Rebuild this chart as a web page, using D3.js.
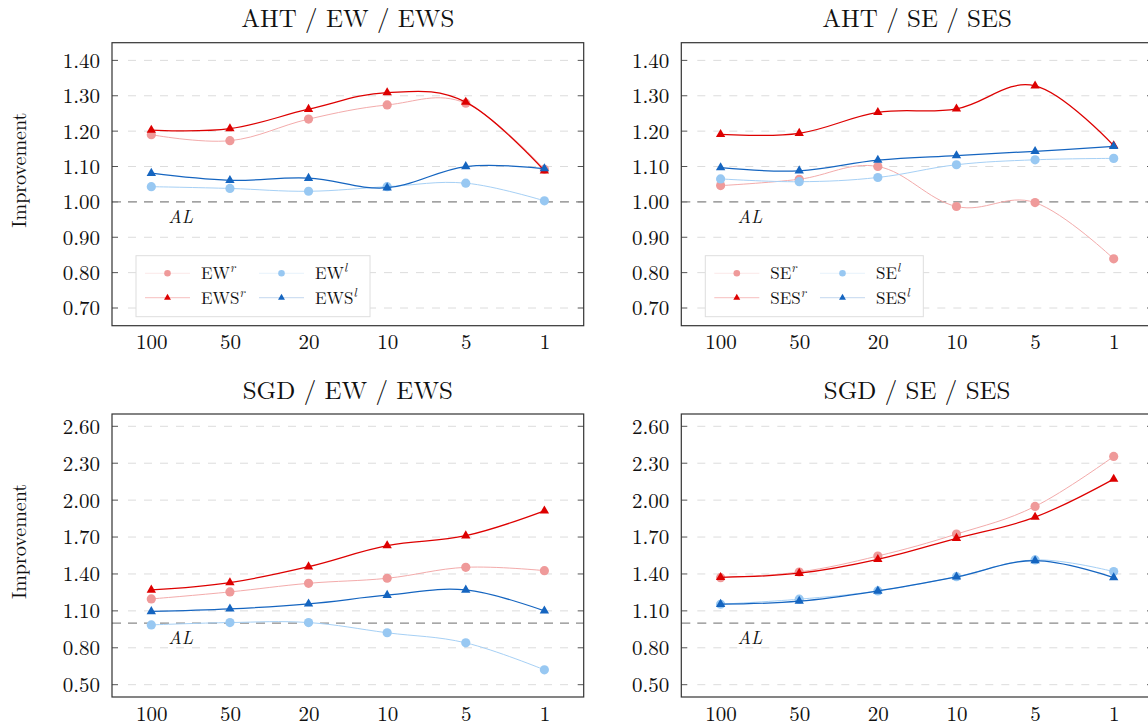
<!DOCTYPE html>
<html><head><meta charset="utf-8">
<script src="https://cdn.jsdelivr.net/npm/d3@7"></script>
<style>
body{margin:0;background:#fff}
svg{display:block}
text{font-family:'Latin Modern Roman','Liberation Serif',serif;fill:#111}
</style>
</head><body><svg id="c" width="1148" height="725"></svg>
<script>
// ---- data ----
const xLabels = ["100","50","20","10","5","1"];
const yTicksAHT = [0.70,0.80,0.90,1.00,1.10,1.20,1.30,1.40];
const yTicksSGD = [0.50,0.80,1.10,1.40,1.70,2.00,2.30,2.60];
const baseline = 1.00;

// AHT / EW / EWS
const ahtEWr  = [1.190,1.173,1.234,1.274,1.279,1.092];
const ahtEWSr = [1.203,1.207,1.262,1.309,1.282,1.088];
const ahtEWl  = [1.043,1.038,1.030,1.043,1.053,1.003];
const ahtEWSl = [1.081,1.061,1.067,1.040,1.100,1.094];
// AHT / SE / SES
const ahtSEr  = [1.046,1.064,1.100,0.987,0.998,0.839];
const ahtSESr = [1.191,1.194,1.253,1.263,1.328,1.159];
const ahtSEl  = [1.065,1.057,1.069,1.105,1.119,1.123];
const ahtSESl = [1.097,1.088,1.118,1.131,1.143,1.157];
// SGD / EW / EWS
const sgdEWr  = [1.197,1.254,1.324,1.365,1.454,1.427];
const sgdEWSr = [1.270,1.330,1.459,1.630,1.711,1.913];
const sgdEWl  = [0.986,1.005,1.005,0.922,0.840,0.621];
const sgdEWSl = [1.095,1.116,1.157,1.227,1.270,1.100];
// SGD / SE / SES
const sgdSEr  = [1.370,1.416,1.546,1.724,1.949,2.355];
const sgdSESr = [1.373,1.406,1.519,1.690,1.862,2.171];
const sgdSEl  = [1.154,1.195,1.262,1.378,1.514,1.419];
const sgdSESl = [1.154,1.179,1.262,1.376,1.508,1.370];

// ---- styles ----
const FONT = "'Latin Modern Roman','Liberation Serif',serif";
const styles = {
  lr: {fill:"#ef9a9a", line:"#f3abab", lw:1.0, marker:"circle"},
  dr: {fill:"#dd0000", line:"#dd0000", lw:1.25, marker:"triangle"},
  lb: {fill:"#98c8f2", line:"#a6d0f5", lw:1.0, marker:"circle"},
  db: {fill:"#1565c0", line:"#1565c0", lw:1.25, marker:"triangle"}
};

const W = 471.7, H = 283;
const panels = [
  {title:"AHT / EW / EWS", x0:112, y0:42.7, domain:[0.65,1.45], ticks:yTicksAHT, ylabel:true,
   series:[["EW","r",ahtEWr,"lr"],["EWS","r",ahtEWSr,"dr"],["EW","l",ahtEWl,"lb"],["EWS","l",ahtEWSl,"db"]],
   legend:{w:234, c2:145}},
  {title:"AHT / SE / SES", x0:681.3, y0:42.7, domain:[0.65,1.45], ticks:yTicksAHT, ylabel:false,
   series:[["SE","r",ahtSEr,"lr"],["SES","r",ahtSESr,"dr"],["SE","l",ahtSEl,"lb"],["SES","l",ahtSESl,"db"]],
   legend:{w:218, c2:136.7}},
  {title:"SGD / EW / EWS", x0:112, y0:414, domain:[0.40,2.70], ticks:yTicksSGD, ylabel:true,
   series:[["EW","r",sgdEWr,"lr"],["EWS","r",sgdEWSr,"dr"],["EW","l",sgdEWl,"lb"],["EWS","l",sgdEWSl,"db"]],
   legend:null},
  {title:"SGD / SE / SES", x0:681.3, y0:414, domain:[0.40,2.70], ticks:yTicksSGD, ylabel:false,
   series:[["SE","r",sgdSEr,"lr"],["SES","r",sgdSESr,"dr"],["SE","l",sgdSEl,"lb"],["SES","l",sgdSESl,"db"]],
   legend:null}
];

const svg = d3.select("#c");
const fmt = d3.format(".2f");

function tri(r){ return `M0,${-r}L${0.866*r},${0.5*r}L${-0.866*r},${0.5*r}Z`; }
function drawMarker(g, type, x, y, color, small){
  if(type==="circle"){
    g.append("circle").attr("cx",x).attr("cy",y).attr("r", small?3.3:4.6).attr("fill",color);
  } else {
    g.append("path").attr("d", tri(small?4:5.4)).attr("transform",`translate(${x},${y})`).attr("fill",color);
  }
}

panels.forEach(p => {
  const g = svg.append("g").attr("transform",`translate(${p.x0},${p.y0})`);
  const x = d3.scalePoint().domain(xLabels).range([0,W]).padding(0.5);
  const y = d3.scaleLinear().domain(p.domain).range([H,0]);

  // grid
  g.append("g").selectAll("line").data(p.ticks).join("line")
    .attr("x1",16).attr("x2",W-8).attr("y1",d=>y(d)).attr("y2",d=>y(d))
    .attr("stroke","#dcdcdc").attr("stroke-width",1).attr("stroke-dasharray","8,8");

  // y axis
  const ya = d3.axisLeft(y).tickValues(p.ticks).tickFormat(fmt).tickSize(0).tickPadding(12);
  const yg = g.append("g").call(ya).attr("font-family",FONT);
  yg.select(".domain").remove();
  yg.selectAll("text").attr("font-size",21).attr("font-family",FONT).attr("fill","#111").attr("dy","0.33em");
  g.append("g").selectAll("line").data(p.ticks).join("line")
    .attr("x1",0).attr("x2",6).attr("y1",d=>y(d)).attr("y2",d=>y(d)).attr("stroke","#555").attr("stroke-width",1);
  g.append("g").selectAll("line").data(p.ticks).join("line")
    .attr("x1",W-6).attr("x2",W).attr("y1",d=>y(d)).attr("y2",d=>y(d)).attr("stroke","#555").attr("stroke-width",1);

  // x axis
  const xa = d3.axisBottom(x).tickSize(0).tickPadding(0);
  const xg = g.append("g").attr("transform",`translate(0,${H})`).call(xa).attr("font-family",FONT);
  xg.select(".domain").remove();
  xg.selectAll("text").attr("font-size",21).attr("font-family",FONT).attr("fill","#111").attr("dy",0).attr("y",23.5);

  // AL baseline
  g.append("line").attr("x1",0).attr("x2",W).attr("y1",y(baseline)).attr("y2",y(baseline))
    .attr("stroke","#8a8a8a").attr("stroke-width",1.3).attr("stroke-dasharray","9,7");
  g.append("text").attr("x",x(xLabels[0])+17).attr("y",y(baseline)+21)
    .attr("font-size",18).attr("font-style","italic").attr("font-family",FONT).text("AL");

  // series
  const line = d3.line().x((d,i)=>x(xLabels[i])).y(d=>y(d)).curve(d3.curveCardinal.tension(-0.1));
  p.series.forEach(s => {
    const st = styles[s[3]];
    g.append("path").attr("d", line(s[2])).attr("fill","none")
      .attr("stroke", st.line).attr("stroke-width", st.lw);
    s[2].forEach((v,i) => drawMarker(g, st.marker, x(xLabels[i]), y(v), st.fill, false));
  });

  // frame
  g.append("rect").attr("x",0).attr("y",0).attr("width",W).attr("height",H)
    .attr("fill","none").attr("stroke","#333").attr("stroke-width",1.2);

  // title
  svg.append("text").attr("x",p.x0+W/2).attr("y",p.y0-15.5).attr("text-anchor","middle")
    .attr("font-size",25).attr("font-family",FONT).text(p.title);

  // y label
  if(p.ylabel){
    svg.append("text").attr("transform",`translate(26,${p.y0+H/2-14}) rotate(-90)`)
      .attr("text-anchor","middle").attr("font-size",20).attr("font-family",FONT).text("Improvement");
  }

  // legend
  if(p.legend){
    const L = p.legend;
    const lg = g.append("g").attr("transform",`translate(24,${H-70})`);
    lg.append("rect").attr("width",L.w).attr("height",61).attr("fill","#fff")
      .attr("stroke","#dedede").attr("stroke-width",1);
    p.series.forEach((s,k) => {
      const st = styles[s[3]];
      const col = k>=2 ? 1 : 0, row = k%2;
      const ox = col ? L.c2-22 : 9;
      const cy = row ? 42 : 17.6;
      lg.append("line").attr("x1",ox).attr("x2",ox+45).attr("y1",cy).attr("y2",cy)
        .attr("stroke",st.line).attr("stroke-width",1.2).attr("opacity",0.2);
      drawMarker(lg, st.marker, ox+22.5, cy, st.fill, true);
      const t = lg.append("text").attr("x",ox+56).attr("y",cy+6).attr("font-size",17).attr("font-family",FONT);
      t.append("tspan").text(s[0]);
      t.append("tspan").attr("font-size",12.5).attr("font-style","italic").attr("dy",-7).text(s[1]);
    });
  }
});
</script>
</body></html>
